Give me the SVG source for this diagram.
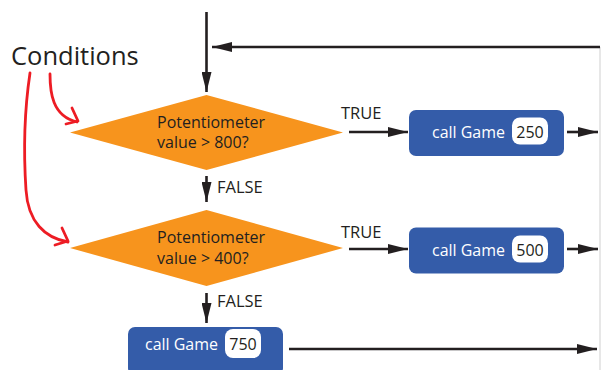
<svg xmlns="http://www.w3.org/2000/svg" width="601" height="370" viewBox="0 0 601 370">
<defs>
<marker id="ahb" viewBox="0 0 20 10" refX="20" refY="5" markerWidth="20" markerHeight="10" markerUnits="userSpaceOnUse" orient="auto">
<path d="M0,0 L20,5 L0,10 Z" fill="#231f20"/>
</marker>
</defs>
<style>
.t{font-family:"Open Sans","Liberation Sans",sans-serif;fill:#231f20}
.w{font-family:"Open Sans","Liberation Sans",sans-serif;fill:#ffffff}
.c{stroke:#231f20;stroke-width:2.6;fill:none}
.dia{fill:#f7941d}
.box{fill:#345ca9}
.pill{fill:#ffffff}
.red{stroke:#ed1c24;stroke-width:2.8;fill:none;stroke-linecap:round;stroke-linejoin:round}
</style>
<rect width="601" height="370" fill="#ffffff"/>
<line x1="600" y1="47" x2="600" y2="370" stroke="#cfcfcf" stroke-width="1"/>
<text class="t" x="11" y="65" font-size="25.5">Conditions</text>
<g id="connectors">
<line class="c" x1="206.5" y1="12" x2="206.5" y2="92" marker-end="url(#ahb)"/>
<line class="c" x1="600" y1="47" x2="212" y2="47" marker-end="url(#ahb)"/>
<line class="c" x1="206.5" y1="176" x2="206.5" y2="202" marker-end="url(#ahb)"/>
<line class="c" x1="206.5" y1="293" x2="206.5" y2="323" marker-end="url(#ahb)"/>
<line class="c" x1="349" y1="132" x2="408" y2="132" marker-end="url(#ahb)"/>
<line class="c" x1="567" y1="132" x2="598" y2="132" marker-end="url(#ahb)"/>
<line class="c" x1="349" y1="249" x2="408" y2="249" marker-end="url(#ahb)"/>
<line class="c" x1="567" y1="249" x2="598" y2="249" marker-end="url(#ahb)"/>
<line class="c" x1="289" y1="349" x2="597" y2="349" marker-end="url(#ahb)"/>
<text class="t" x="341" y="119" font-size="16.5">TRUE</text>
<text class="t" x="341" y="238" font-size="16.5">TRUE</text>
<text class="t" x="217" y="193" font-size="16.5">FALSE</text>
<text class="t" x="217" y="307" font-size="16.5">FALSE</text>
<path class="red" d="M50,74 C50,92 52,116 77,122"/>
<path class="red" d="M72,108 L78,121 L66,124"/>
<path class="red" d="M30,73 C23,120 24,160 26,190 C28,222 45,238 68,242"/>
<path class="red" d="M62,228 L68,241 L55,245"/>
</g>
<g id="cond1">
<polygon class="dia" points="206.5,95 343,132.5 206.5,170 70,132.5"/>
<text class="t" x="157" y="128" font-size="16">Potentiometer</text>
<text class="t" x="157" y="148" font-size="16">value &gt; 800?</text>
</g>
<g id="cond2">
<polygon class="dia" points="206.5,210 343,248 206.5,286 70,248"/>
<text class="t" x="157" y="243" font-size="16">Potentiometer</text>
<text class="t" x="157" y="264" font-size="16">value &gt; 400?</text>
</g>
<g id="game250">
<rect class="box" x="409" y="110" width="155" height="46" rx="7"/>
<text class="w" x="432" y="138" font-size="16" textLength="73" lengthAdjust="spacingAndGlyphs">call Game</text>
<rect class="pill" x="512" y="117.5" width="36" height="27" rx="8"/>
<text class="t" x="530" y="138" font-size="16" text-anchor="middle">250</text>
</g>
<g id="game500">
<rect class="box" x="409" y="227.5" width="155" height="46" rx="7"/>
<text class="w" x="432" y="256" font-size="16" textLength="73" lengthAdjust="spacingAndGlyphs">call Game</text>
<rect class="pill" x="512" y="235.5" width="36" height="27" rx="8"/>
<text class="t" x="530" y="256" font-size="16" text-anchor="middle">500</text>
</g>
<g id="game750">
<rect class="box" x="128" y="327" width="155" height="48" rx="7"/>
<text class="w" x="145" y="350" font-size="16" textLength="73" lengthAdjust="spacingAndGlyphs">call Game</text>
<rect class="pill" x="225" y="329" width="36" height="29" rx="8"/>
<text class="t" x="243" y="350" font-size="16" text-anchor="middle">750</text>
</g>
</svg>
